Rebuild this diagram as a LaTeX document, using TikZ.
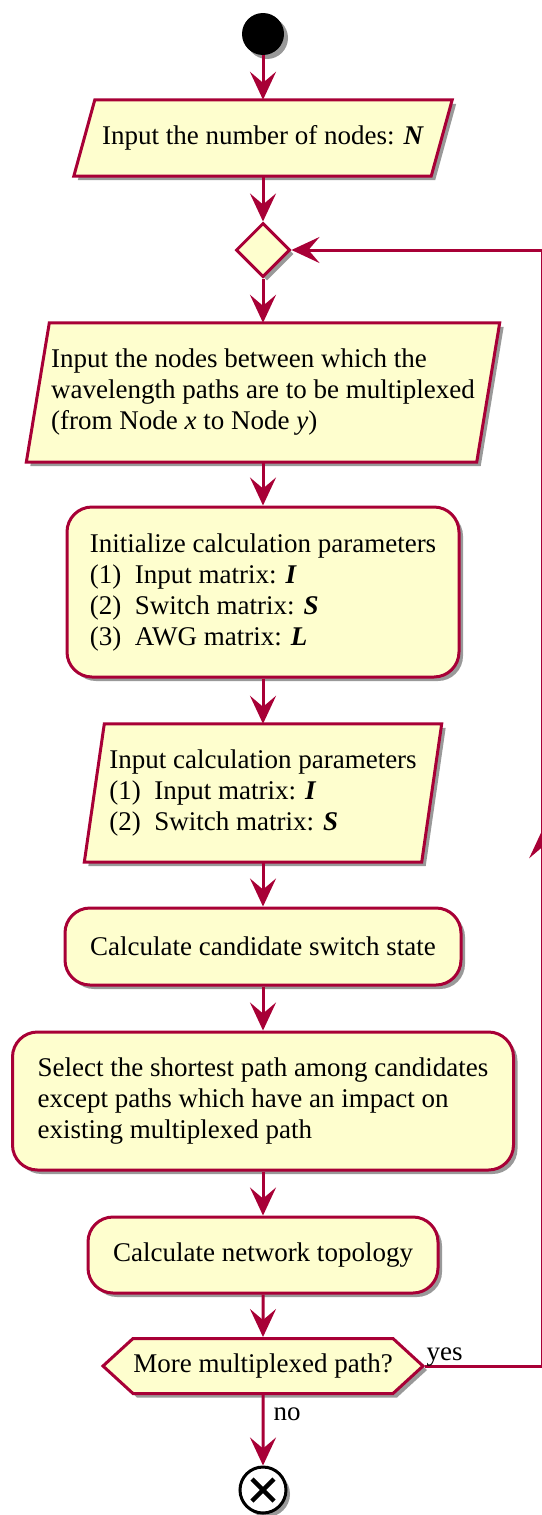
\documentclass[tikz,border=0pt]{standalone}
\usepackage{fontspec}
\setmainfont{Liberation Serif}
\usetikzlibrary{arrows.meta,shapes.geometric,shapes.symbols,shadows,decorations.markings,backgrounds}
\definecolor{rand}{HTML}{A80036}
\definecolor{gelb}{HTML}{FEFECE}
\tikzset{
  spitze/.tip={Stealth[length=28pt,width=26pt,inset=11pt]},
  pfeil/.style={-spitze,rand,line width=3pt},
  schatten/.style={drop shadow={shadow xshift=4pt,shadow yshift=-4pt,fill=black,opacity=0.4}},
  box/.style={rectangle,rounded corners=25pt,draw=rand,fill=gelb,line width=3pt,schatten,align=left,inner sep=0pt},
  eintext/.style={rectangle,align=left,inner sep=0pt},
  ein/.style={draw=rand,fill=gelb,line width=3pt,schatten},
  raute/.style={diamond,aspect=1,draw=rand,fill=gelb,line width=3pt,schatten,inner sep=0pt,minimum size=54pt},
  frage/.style={signal,signal to=west and east,signal pointer angle=85,draw=rand,fill=gelb,line width=3pt,schatten,inner sep=0pt},
  anfang/.style={circle,fill=black,inner sep=0pt,minimum size=42pt,schatten},
  stopp/.style={circle,draw=black,fill=white,line width=3pt,inner sep=0pt,minimum size=46pt,schatten},
  kreuz/.style={black,line width=4.5pt},
  marke/.style={text=black,inner sep=0pt},
}

\begin{document}
\begin{tikzpicture}[x=1pt,y=-1pt,font=\fontsize{27}{31}\selectfont]
  \useasboundingbox (0,0) rectangle (541,1515);
  \node[anfang] (start) at (263,34) {};
  \node[eintext,minimum width=357pt,minimum height=76pt] (anzahl) at (263,138) {Input the number of nodes: \textbf{\textit{N}}};
  \node[raute] (wahl) at (263,250) {};
  \node[eintext,minimum width=450pt,minimum height=139pt] (paar) at (263,392.5) {Input the nodes between which the\\wavelength paths are to be multiplexed\\(from Node \textit{x} to Node \textit{y})};
  \node[box,minimum width=392pt,minimum height=170pt] (init) at (263,592) {Initialize calculation parameters\\(1)\ \ Input matrix: \textbf{\textit{I}}\\(2)\ \ Switch matrix: \textbf{\textit{S}}\\(3)\ \ AWG matrix: \textbf{\textit{L}}};
  \node[eintext,minimum width=337pt,minimum height=138pt] (param) at (263,793) {Input calculation parameters\\(1)\ \ Input matrix: \textbf{\textit{I}}\\(2)\ \ Switch matrix: \textbf{\textit{S}}};
  \node[box,minimum width=396pt,minimum height=77pt] (kand) at (263,946.5) {Calculate candidate switch state};
  \node[box,minimum width=501pt,minimum height=138pt] (auswahl) at (263,1101) {Select the shortest path among candidates\\except paths which have an impact on\\existing multiplexed path};
  \node[box,minimum width=350pt,minimum height=76pt] (topo) at (263,1255) {Calculate network topology};
  \node[frage,minimum width=320pt,minimum height=55pt] (mehr) at (263,1366) {More multiplexed path?};
  \node[stopp] (ende) at (263,1490) {};
  \draw[kreuz] ([shift={(-11,-11)}]ende.center) -- ([shift={(11,11)}]ende.center);
  \draw[kreuz] ([shift={(-11,11)}]ende.center) -- ([shift={(11,-11)}]ende.center);

  \begin{scope}[on background layer]
    \foreach \n/\s in {anzahl/21,paar/23,param/20}
      \draw[ein] ([xshift=-\s/2]\n.south west) -- ([xshift=-\s/2]\n.south east)
        -- ([xshift=\s/2]\n.north east) -- ([xshift=\s/2]\n.north west) -- cycle;
  \end{scope}

  \draw[pfeil] (start) -- (anzahl);
  \draw[pfeil] (anzahl) -- (wahl);
  \draw[pfeil] (wahl) -- (paar);
  \draw[pfeil] (paar) -- (init);
  \draw[pfeil] (init) -- (param);
  \draw[pfeil] (param) -- (kand);
  \draw[pfeil] (kand) -- (auswahl);
  \draw[pfeil] (auswahl) -- (topo);
  \draw[pfeil] (topo) -- (mehr);
  \draw[pfeil] (mehr) -- node[marke,pos=0.27,anchor=west,xshift=9pt] {no} (ende);
  \draw[pfeil,postaction={decorate},decoration={markings,mark=at position 0.44 with {\arrow{spitze}}}]
    (mehr.east) -- node[marke,pos=0,anchor=base west,yshift=6pt] {yes} ++(117,0) |- (wahl.east);
\end{tikzpicture}
\end{document}
